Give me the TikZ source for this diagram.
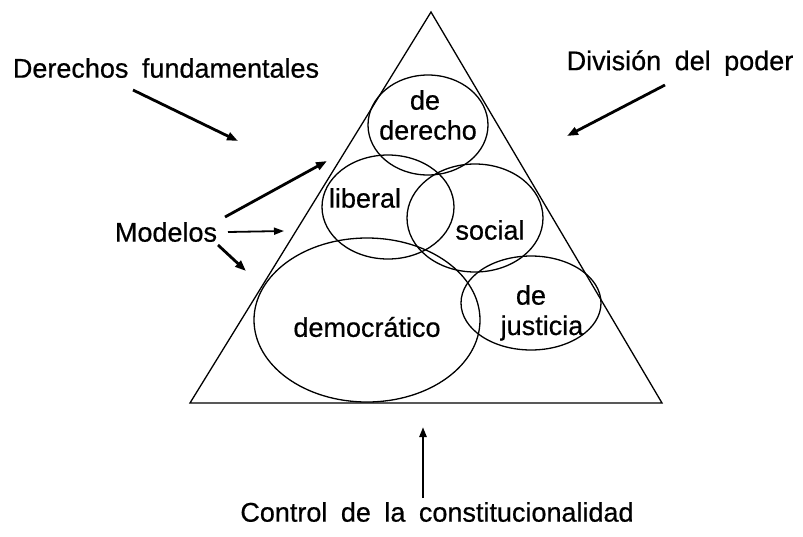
\documentclass[tikz,border=0pt]{standalone}
\usepackage{fontspec}
\setmainfont[WordSpace=1.8]{Liberation Sans}
\newfontfamily\lblfont[WordSpace=1.8,FakeBold=0.6]{Liberation Sans}
\usetikzlibrary{arrows.meta,shapes.geometric}
\begin{document}
\begin{tikzpicture}[x=1pt,y=-1pt,
  lbl/.style={font=\lblfont\fontsize{27}{32}\selectfont, inner sep=0pt, anchor=center},
  oval/.style={draw, ellipse, inner sep=0pt, line width=1.3pt},
  thickarrow/.style={line width=2.8pt, -{Triangle[length=11pt,width=8pt]}},
  thinarrow/.style={line width=1.8pt, -{Triangle[length=10pt,width=7pt]}}]
\useasboundingbox (0,0) rectangle (803,536);
% triangle
\coordinate (apex) at (431,12);
\coordinate (bl) at (190,403);
\coordinate (br) at (662,403);
\draw[line width=1.3pt, line join=miter] (apex) -- (bl) -- (br) -- cycle;
% ellipses
\node[oval, minimum width=120pt, minimum height=100pt] (eder) at (428,125) {};
\node[oval, minimum width=132pt, minimum height=104pt] (elib) at (388,207) {};
\node[oval, minimum width=136pt, minimum height=108pt] (esoc) at (475,218) {};
\node[oval, minimum width=226pt, minimum height=164pt] (edem) at (367,320) {};
\node[oval, minimum width=140pt, minimum height=94pt] (ejus) at (531,303) {};
% inner labels
\node[lbl] (tde1) at (425,100) {de};
\node[lbl] (tder) at (428,130) {derecho};
\node[lbl] (tlib) at (365,198) {liberal};
\node[lbl] (tsoc) at (490,230) {social};
\node[lbl] (tdem) at (367,327) {democrático};
\node[lbl] (tde2) at (531,295) {de};
\node[lbl] (tjus) at (542,328) {justicia};
% outer labels
\node[lbl] (dfund) at (166,68) {Derechos fundamentales};
\node[lbl] (dpod) at (680,63) {División del poder};
\node[lbl] (mod) at (166,232) {Modelos};
\node[lbl] (ctrl) at (437,512) {Control de la constitucionalidad};
% arrows
\coordinate (a1s) at (133,90);   \coordinate (a1e) at (238,141);
\coordinate (a2s) at (665,85);   \coordinate (a2e) at (567,136);
\coordinate (m1s) at (225,217);  \coordinate (m1e) at (327,161);
\coordinate (m2s) at (228,232);  \coordinate (m2e) at (284,231);
\coordinate (m3s) at (218,245);  \coordinate (m3e) at (246,271);
\coordinate (cs) at (423,498);   \coordinate (ce) at (423,427);
\draw[thickarrow] (a1s) -- (a1e);
\draw[thickarrow] (a2s) -- (a2e);
\draw[thickarrow] (m1s) -- (m1e);
\draw[thinarrow] (m2s) -- (m2e);
\draw[thickarrow] (m3s) -- (m3e);
\draw[line width=2.4pt, -{Triangle[length=10pt,width=7pt]}] (cs) -- (ce);
\end{tikzpicture}
\end{document}
